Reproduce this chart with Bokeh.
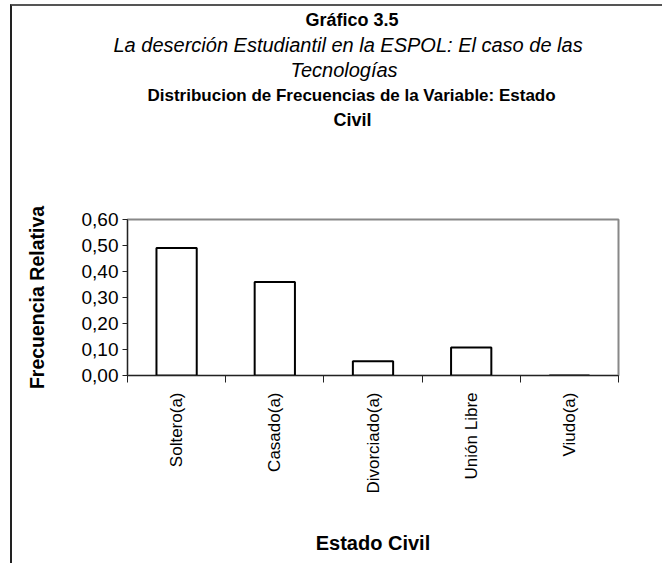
import math
from bokeh.plotting import figure
from bokeh.models import (FactorRange, Range1d, LinearAxis, CategoricalAxis, FixedTicker,
                          CustomJSTickFormatter, Title)
from bokeh.embed import file_html
from bokeh.resources import INLINE

# ---- data ----
categories = ["Soltero(a)", "Casado(a)", "Divorciado(a)", "Unión Libre", "Viudo(a)"]
frecuencia_relativa = [0.49, 0.36, 0.055, 0.108, 0.0]
y_ticks = [0.0, 0.1, 0.2, 0.3, 0.4, 0.5, 0.6]

title_lines = [
    "Gráfico 3.5",
    "La deserción Estudiantil en la ESPOL: El caso de las",
    "Tecnologías",
    "Distribucion de Frecuencias de la Variable: Estado",
    "Civil",
]
y_label = "Frecuencia Relativa"
x_label = "Estado Civil"

FONT = "Liberation Sans"

p = figure(width=652, height=559, x_range=FactorRange(*categories),
           y_range=Range1d(0, 0.6), x_axis_location=None, y_axis_location="left",
           output_backend="svg", toolbar_location=None, tools="",
           min_border_left=115, min_border_right=46, min_border_top=0,
           min_border_bottom=190)
p.title.visible = False
p.styles = {"border-left": "2px solid #222222", "border-top": "2px solid #555555",
            "margin-left": "10px", "margin-top": "4px"}
p.grid.visible = False
p.outline_line_color = "#888888"
p.outline_line_width = 2
p.background_fill_color = "white"
p.border_fill_color = "white"

p.vbar(x=categories, top=frecuencia_relativa, width=0.41, fill_color="white",
       line_color="black", line_width=2)

# y axis
ya = p.yaxis[0]
ya.ticker = FixedTicker(ticks=y_ticks)
ya.formatter = CustomJSTickFormatter(code="return tick.toFixed(2).replace('.', ',');")
ya.major_tick_out = 5
ya.major_tick_in = 0
ya.minor_tick_line_color = None
ya.axis_line_color = "#222222"
ya.major_tick_line_color = "#222222"
ya.major_label_text_font = FONT
ya.major_label_text_font_size = "19px"
ya.major_label_text_color = "black"
ya.major_label_standoff = 4
ya.axis_label = y_label
ya.axis_label_text_font = FONT
ya.axis_label_text_font_style = "bold"
ya.axis_label_text_font_size = "19.5px"
ya.axis_label_text_color = "black"
ya.axis_label_standoff = 31

# x boundary ticks (category edges in the factor range's synthetic coordinates)
tick_axis = LinearAxis(ticker=FixedTicker(ticks=list(range(len(categories) + 1))),
                       formatter=CustomJSTickFormatter(code="return '';"),
                       major_tick_out=7, major_tick_in=0,
                       minor_tick_line_color=None,
                       major_label_text_font_size="1px",
                       major_label_standoff=0,
                       axis_line_color="#222222",
                       major_tick_line_color="#222222")
p.add_layout(tick_axis, "below")

cat_axis = CategoricalAxis(major_tick_line_color=None, axis_line_color=None,
                           major_label_orientation=math.pi / 2,
                           major_label_text_font=FONT,
                           major_label_text_font_size="17px",
                           major_label_text_color="black",
                           major_label_standoff=4,
                           axis_label=x_label,
                           axis_label_text_font=FONT,
                           axis_label_text_font_style="bold",
                           axis_label_text_font_size="20px",
                           axis_label_text_color="black",
                           axis_label_standoff=35)
p.add_layout(cat_axis, "below")

# empty spacer between the title block and the plot frame (invisible tick)
spacer = LinearAxis(ticker=FixedTicker(ticks=[0]),
                    formatter=CustomJSTickFormatter(code="return '';"),
                    major_tick_out=88, major_tick_in=0,
                    major_tick_line_color=None, minor_tick_line_color=None,
                    axis_line_color=None, major_label_standoff=0,
                    major_label_text_font_size="1px")
p.add_layout(spacer, "above")

# titles: the first one added sits nearest to the frame
title_styles = [  # (style, size, standoff, left offset)
    ("bold", "18px", 2.75, 178),
    ("italic", "20px", 0.75, -14),
    ("italic", "20px", 0.75, 163),
    ("bold", "17px", 3.75, 20),
    ("bold", "18px", 2.75, 206),
]
for txt, (style, size, so, off) in reversed(list(zip(title_lines, title_styles))):
    t = Title(text=txt, align="left", offset=off, text_font=FONT,
              text_font_style=style, text_font_size=size,
              text_color="black", standoff=so)
    p.add_layout(t, "above")

open("out.html", "w").write(file_html(p, INLINE))
